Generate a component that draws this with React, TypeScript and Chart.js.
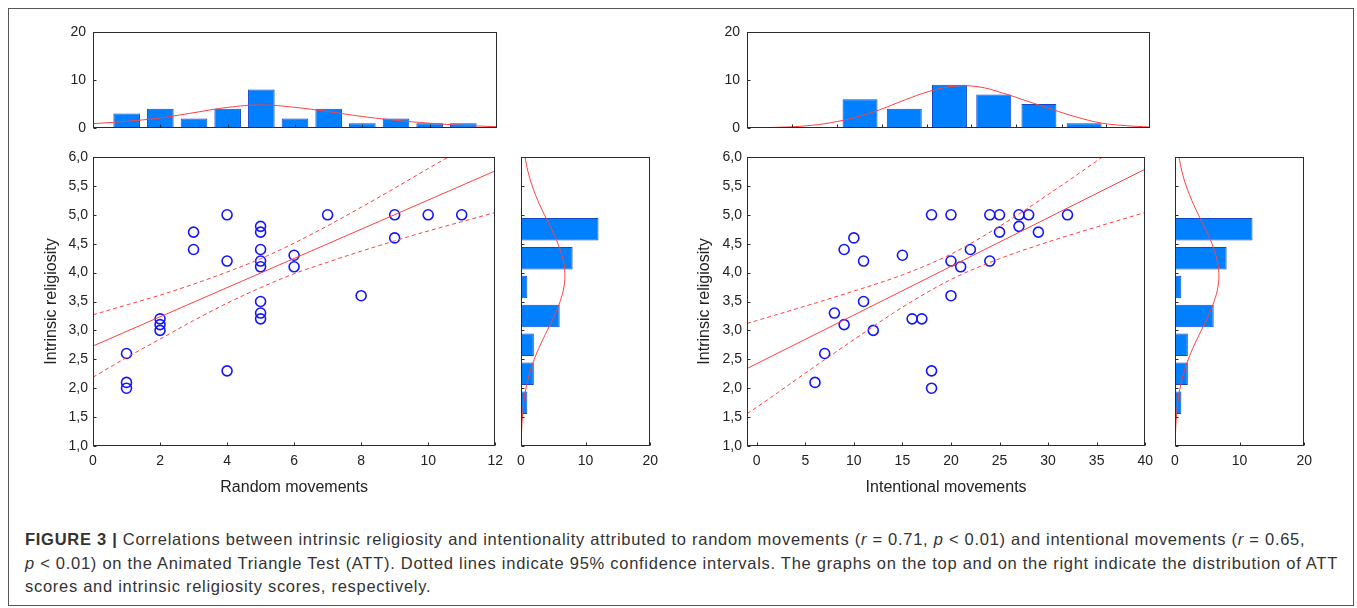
import React, { useEffect, useRef } from "react";
import { Chart, registerables } from "chart.js";

Chart.register(...registerables);
Chart.defaults.font.family = "'Liberation Sans', Arial, sans-serif";
Chart.defaults.color = "#222";

// ---------- Data: left panel (random movements) ----------
const RANDOM_X = [1, 1, 1, 2, 2, 2, 3, 3, 4, 4, 4, 5, 5, 5, 5, 5, 5, 5, 5, 6, 6, 7, 8, 9, 9, 10, 11];
const RANDOM_Y = [2.6, 2.1, 2.0, 3.2, 3.1, 3.0, 4.7, 4.4, 5.0, 4.2, 2.3, 4.8, 4.7, 4.4, 4.2, 4.1, 3.5, 3.3, 3.2, 4.3, 4.1, 5.0, 3.6, 5.0, 4.6, 5.0, 5.0];
const RANDOM_FIT_X = [0, 12];
const RANDOM_FIT_Y = [2.73, 5.76];
const RANDOM_CI_X = [0, 1, 2, 3, 4, 5, 6, 7, 8, 9, 10, 11, 12];
const RANDOM_CI_UP = [3.27, 3.44, 3.61, 3.8, 4.01, 4.24, 4.51, 4.81, 5.13, 5.46, 5.8, 6.13, 6.48];
const RANDOM_CI_LO = [2.19, 2.53, 2.85, 3.17, 3.47, 3.74, 3.98, 4.18, 4.37, 4.55, 4.72, 4.88, 5.04];
const RANDOM_HIST_BINS = [1, 2, 3, 4, 5, 6, 7, 8, 9, 10, 11];
const RANDOM_HIST_COUNTS = [3, 4, 2, 4, 8, 2, 4, 1, 2, 1, 1];
const RANDOM_CURVE_X = [0, 1, 2, 3, 4, 5, 6, 7, 8, 9, 10, 11, 12];
const RANDOM_CURVE_Y = [0.9, 1.4, 2.1, 3.2, 4.3, 4.8, 4.3, 3.4, 2.4, 1.6, 1.0, 0.55, 0.27];
const RANDOM_X_TICKS = [0, 2, 4, 6, 8, 10, 12];
const RANDOM_HIST_MARKS = [2, 4, 6, 8, 10];

// ---------- Data: right panel (intentional movements) ----------
const INTENT_X = [18, 20, 24, 25, 27, 28, 32, 27, 25, 29, 10, 9, 22, 11, 15, 20, 24, 21, 20, 11, 8, 9, 12, 16, 17, 7, 6, 18, 18];
const INTENT_Y = [5.0, 5.0, 5.0, 5.0, 5.0, 5.0, 5.0, 4.8, 4.7, 4.7, 4.6, 4.4, 4.4, 4.2, 4.3, 4.2, 4.2, 4.1, 3.6, 3.5, 3.3, 3.1, 3.0, 3.2, 3.2, 2.6, 2.1, 2.3, 2.0];
const INTENT_FIT_X = [-1, 40];
const INTENT_FIT_Y = [2.34, 5.79];
const INTENT_CI_X = [-1, 0, 5, 10, 15, 20, 25, 30, 35, 40];
const INTENT_CI_UP = [3.12, 3.17, 3.42, 3.68, 3.96, 4.32, 4.8, 5.35, 5.93, 6.52];
const INTENT_CI_LO = [1.56, 1.67, 2.26, 2.84, 3.4, 3.88, 4.24, 4.53, 4.79, 5.04];
const INTENT_HIST_BINS = [10.5, 15.0, 19.6, 24.1, 28.7, 33.3];
const INTENT_HIST_COUNTS = [6, 4, 9, 7, 5, 1];
const INTENT_HIST_EDGES = [3.6, 8.2, 12.7, 17.3, 21.8, 26.4, 31.0, 35.5];
const INTENT_CURVE_X = [-1, 0, 2.5, 5, 7.5, 10, 12.5, 15, 17.5, 20, 22.5, 25, 27.5, 30, 32.5, 35, 37.5, 40];
const INTENT_CURVE_Y = [0.03, 0.06, 0.17, 0.45, 1.1, 2.2, 3.8, 5.8, 7.6, 8.7, 8.6, 7.3, 5.6, 3.9, 2.3, 1.05, 0.5, 0.2];
const INTENT_X_TICKS = [0, 5, 10, 15, 20, 25, 30, 35, 40];

// ---------- Data: religiosity distribution (shared) ----------
const REL_BINS = [1.75, 2.25, 2.75, 3.25, 3.75, 4.25, 4.75];
const REL_COUNTS = [1, 2, 2, 6, 1, 8, 12];
const REL_CURVE_Y = [1.0, 1.25, 1.5, 1.75, 2.0, 2.25, 2.5, 2.75, 3.0, 3.25, 3.5, 3.75, 4.0, 4.25, 4.5, 4.75, 5.0, 5.25, 5.5, 5.75, 6.0];
const REL_CURVE_X = [0.05, 0.11, 0.23, 0.44, 0.79, 1.33, 2.07, 3.01, 4.08, 5.15, 6.06, 6.65, 6.8, 6.46, 5.73, 4.73, 3.64, 2.61, 1.75, 1.09, 0.63];
const REL_TICKS = [1.0, 1.5, 2.0, 2.5, 3.0, 3.5, 4.0, 4.5, 5.0, 5.5, 6.0];
const COUNT_TICKS = [0, 10, 20];

// ---------- Styles ----------
const BLUE = "rgb(20,20,255)";
const RED = "rgb(255,64,64)";
const BAR_FILL = "rgb(0,128,255)";
const BAR_EDGE = "rgb(20,70,200)";
const FRAME = "#2a2a2a";

const framePlugin = {
  id: "frameTicks",
  afterDraw(chart: any, _args: any, opts: any) {
    const { ctx, chartArea: a } = chart;
    ctx.save();
    ctx.strokeStyle = FRAME;
    ctx.lineWidth = 1;
    const l = Math.round(a.left) + 0.5;
    const t = Math.round(a.top) + 0.5;
    const r = Math.round(a.right) - 0.5;
    const b = Math.round(a.bottom) - 0.5;
    ctx.strokeRect(l, t, r - l, b - t);
    const len = 3;
    ctx.beginPath();
    if (opts && opts.x) {
      const xs = chart.scales.x;
      for (const tk of xs.ticks) {
        const px = Math.round(xs.getPixelForValue(tk.value)) + 0.5;
        ctx.moveTo(px, b);
        ctx.lineTo(px, b - len);
      }
    }
    if (opts && opts.y) {
      const ys = chart.scales.y;
      for (const tk of ys.ticks) {
        const py = Math.round(ys.getPixelForValue(tk.value)) + 0.5;
        ctx.moveTo(l, py);
        ctx.lineTo(l + len, py);
      }
    }
    ctx.stroke();
    ctx.restore();
  },
};

const fixW = (w: number) => (s: any) => {
  s.width = w;
};
const fixH = (h: number) => (s: any) => {
  s.height = h;
};
const setTicks = (vals: number[]) => (s: any) => {
  s.ticks = vals.map((v) => ({ value: v }));
};
const pts = (xs: number[], ys: number[]) => xs.map((x, i) => ({ x, y: ys[i] }));
const commaFmt = (v: any) => Number(v).toFixed(1).replace(".", ",");

const baseOptions = (padding: any) => ({
  animation: false,
  responsive: false,
  maintainAspectRatio: false,
  events: [],
  layout: { padding },
  plugins: {
    legend: { display: false },
    tooltip: { enabled: false },
    frameTicks: { x: true, y: true },
  },
});

function scatterConfig(opts: {
  xs: number[];
  ys: number[];
  fitX: number[];
  fitY: number[];
  ciX: number[];
  ciUp: number[];
  ciLo: number[];
  xMin: number;
  xMax: number;
  xTicks: number[];
  xTitle: string;
  yAxisW: number;
  yTitlePad: number;
  padRight: number;
}) {
  return {
    type: "scatter",
    data: {
      datasets: [
        {
          data: pts(opts.fitX, opts.fitY),
          showLine: true,
          borderColor: RED,
          borderWidth: 1,
          pointRadius: 0,
        },
        {
          data: pts(opts.ciX, opts.ciUp),
          showLine: true,
          borderColor: RED,
          borderWidth: 1,
          borderDash: [4, 3],
          pointRadius: 0,
          cubicInterpolationMode: "monotone",
        },
        {
          data: pts(opts.ciX, opts.ciLo),
          showLine: true,
          borderColor: RED,
          borderWidth: 1,
          borderDash: [4, 3],
          pointRadius: 0,
          cubicInterpolationMode: "monotone",
        },
        {
          data: pts(opts.xs, opts.ys),
          showLine: false,
          pointRadius: 5,
          pointBorderWidth: 1.6,
          pointBorderColor: BLUE,
          pointBackgroundColor: "rgba(0,0,0,0)",
          borderColor: BLUE,
          backgroundColor: "rgba(0,0,0,0)",
        },
      ],
    },
    options: {
      ...baseOptions({ top: 17, right: opts.padRight, left: 0, bottom: 0 }),
      scales: {
        x: {
          type: "linear",
          min: opts.xMin,
          max: opts.xMax,
          afterBuildTicks: setTicks(opts.xTicks),
          afterFit: fixH(54),
          grid: { display: false, drawTicks: false },
          border: { display: false },
          ticks: { padding: 7, maxRotation: 0, font: { size: 14 }, color: "#222" },
          title: {
            display: true,
            text: opts.xTitle,
            font: { size: 16 },
            color: "#222",
            padding: { top: 0, bottom: 3 },
          },
        },
        y: {
          type: "linear",
          min: 1,
          max: 6,
          afterBuildTicks: setTicks(REL_TICKS),
          afterFit: fixW(opts.yAxisW),
          grid: { display: false, drawTicks: false },
          border: { display: false },
          ticks: { padding: 5, font: { size: 14 }, color: "#222", callback: commaFmt },
          title: {
            display: true,
            text: "Intrinsic religiosity",
            font: { size: 16 },
            color: "#222",
            padding: { top: opts.yTitlePad, bottom: 0 },
          },
        },
      },
    },
    plugins: [framePlugin],
  };
}

function topHistConfig(opts: {
  bins: number[];
  counts: number[];
  curveX: number[];
  curveY: number[];
  xMin: number;
  xMax: number;
  marks: number[];
  yAxisW: number;
  padRight: number;
}) {
  return {
    type: "bar",
    data: {
      datasets: [
        {
          type: "line",
          data: pts(opts.curveX, opts.curveY),
          borderColor: RED,
          borderWidth: 1,
          pointRadius: 0,
          tension: 0.4,
        },
        {
          type: "bar",
          data: pts(opts.bins, opts.counts),
          backgroundColor: BAR_FILL,
          borderColor: BAR_EDGE,
          borderWidth: 1,
          barPercentage: 0.79,
          categoryPercentage: 1,
        },
      ],
    },
    options: {
      ...baseOptions({ top: 22, right: opts.padRight, left: 0, bottom: 0 }),
      scales: {
        x: {
          type: "linear",
          offset: false,
          min: opts.xMin,
          max: opts.xMax,
          afterBuildTicks: setTicks(opts.marks),
          afterFit: fixH(16),
          grid: { display: false, drawTicks: false, offset: false },
          border: { display: false },
          ticks: { display: false },
        },
        y: {
          type: "linear",
          min: 0,
          max: 20,
          afterBuildTicks: setTicks(COUNT_TICKS),
          afterFit: fixW(opts.yAxisW),
          grid: { display: false, drawTicks: false },
          border: { display: false },
          ticks: { padding: 7, font: { size: 14 }, color: "#222" },
        },
      },
    },
    plugins: [framePlugin],
  };
}

function sideHistConfig() {
  return {
    type: "bar",
    data: {
      datasets: [
        {
          type: "line",
          data: pts(REL_CURVE_X, REL_CURVE_Y),
          borderColor: RED,
          borderWidth: 1,
          pointRadius: 0,
          tension: 0.4,
        },
        {
          type: "bar",
          data: pts(REL_COUNTS, REL_BINS),
          backgroundColor: BAR_FILL,
          borderColor: BAR_EDGE,
          borderWidth: 1,
          barPercentage: 0.78,
          categoryPercentage: 1,
        },
      ],
    },
    options: {
      ...baseOptions({ top: 17, right: 12, left: 0, bottom: 0 }),
      indexAxis: "y",
      scales: {
        x: {
          type: "linear",
          min: 0,
          max: 20,
          afterBuildTicks: setTicks(COUNT_TICKS),
          afterFit: fixH(54),
          grid: { display: false, drawTicks: false },
          border: { display: false },
          ticks: { padding: 7, maxRotation: 0, font: { size: 14 }, color: "#222" },
        },
        y: {
          type: "linear",
          offset: false,
          min: 1,
          max: 6,
          afterBuildTicks: setTicks(REL_TICKS),
          afterFit: fixW(9),
          grid: { display: false, drawTicks: false, offset: false },
          border: { display: false },
          ticks: { display: false },
        },
      },
    },
    plugins: [framePlugin],
  };
}

function Panel(props: { left: number; top: number; width: number; height: number; make: () => any }) {
  const ref = useRef<HTMLCanvasElement>(null);
  useEffect(() => {
    const chart = new Chart(ref.current as HTMLCanvasElement, props.make());
    return () => chart.destroy();
  }, []);
  return (
    <canvas
      ref={ref}
      width={props.width}
      height={props.height}
      style={{ position: "absolute", left: props.left, top: props.top, width: props.width, height: props.height }}
    />
  );
}

export default function App() {
  return (
    <div
      style={{
        position: "absolute",
        left: 0,
        top: 0,
        width: 1357,
        height: 608,
        background: "#fff",
        overflow: "hidden",
      }}
    >
      <div
        style={{
          position: "absolute",
          left: 8,
          top: 8,
          width: 1346,
          height: 598,
          border: "1px solid #555",
          boxSizing: "border-box",
        }}
      />
      <Panel
        left={0}
        top={10}
        width={510}
        height={134}
        make={() =>
          topHistConfig({
            bins: RANDOM_HIST_BINS,
            counts: RANDOM_HIST_COUNTS,
            curveX: RANDOM_CURVE_X,
            curveY: RANDOM_CURVE_Y,
            xMin: 0,
            xMax: 12,
            marks: RANDOM_HIST_MARKS,
            yAxisW: 93,
            padRight: 13,
          })
        }
      />
      <Panel
        left={0}
        top={140}
        width={510}
        height={360}
        make={() =>
          scatterConfig({
            xs: RANDOM_X,
            ys: RANDOM_Y,
            fitX: RANDOM_FIT_X,
            fitY: RANDOM_FIT_Y,
            ciX: RANDOM_CI_X,
            ciUp: RANDOM_CI_UP,
            ciLo: RANDOM_CI_LO,
            xMin: 0,
            xMax: 12,
            xTicks: RANDOM_X_TICKS,
            xTitle: "Random movements",
            yAxisW: 93,
            yTitlePad: 42,
            padRight: 13,
          })
        }
      />
      <Panel left={510} top={140} width={155} height={360} make={() => sideHistConfig()} />
      <Panel
        left={665}
        top={10}
        width={495}
        height={134}
        make={() =>
          topHistConfig({
            bins: INTENT_HIST_BINS,
            counts: INTENT_HIST_COUNTS,
            curveX: INTENT_CURVE_X,
            curveY: INTENT_CURVE_Y,
            xMin: -1,
            xMax: 40,
            marks: INTENT_HIST_EDGES,
            yAxisW: 82,
            padRight: 10,
          })
        }
      />
      <Panel
        left={665}
        top={140}
        width={495}
        height={360}
        make={() =>
          scatterConfig({
            xs: INTENT_X,
            ys: INTENT_Y,
            fitX: INTENT_FIT_X,
            fitY: INTENT_FIT_Y,
            ciX: INTENT_CI_X,
            ciUp: INTENT_CI_UP,
            ciLo: INTENT_CI_LO,
            xMin: -1,
            xMax: 40,
            xTicks: INTENT_X_TICKS,
            xTitle: "Intentional movements",
            yAxisW: 82,
            yTitlePad: 30,
            padRight: 11,
          })
        }
      />
      <Panel left={1164} top={140} width={155} height={360} make={() => sideHistConfig()} />
      <div
        style={{
          position: "absolute",
          left: 25,
          top: 528,
          fontFamily: "'Liberation Sans', Arial, sans-serif",
          fontSize: 16.5,
          letterSpacing: "0.72px",
          lineHeight: "23.5px",
          color: "#333",
          whiteSpace: "nowrap",
        }}
      >
        <div>
          <b>FIGURE 3 |</b> Correlations between intrinsic religiosity and intentionality attributed to random movements (
          <i>r</i> = 0.71, <i>p</i> &lt; 0.01) and intentional movements (<i>r</i> = 0.65,
        </div>
        <div>
          <i>p</i> &lt; 0.01) on the Animated Triangle Test (ATT). Dotted lines indicate 95% confidence intervals. The
          graphs on the top and on the right indicate the distribution of ATT
        </div>
        <div>scores and intrinsic religiosity scores, respectively.</div>
      </div>
    </div>
  );
}
